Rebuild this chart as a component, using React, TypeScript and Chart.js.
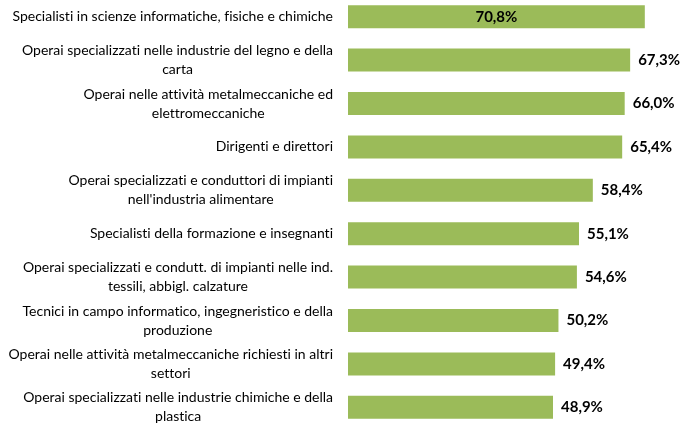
import React, { useEffect, useRef } from 'react';
import { Chart, registerables } from 'chart.js';
Chart.register(...registerables);

const categories: string[][] = [
  ['Specialisti in scienze informatiche, fisiche e chimiche'],
  ['Operai specializzati nelle industrie del legno e della', 'carta'],
  ['Operai nelle attività metalmeccaniche ed', 'elettromeccaniche'],
  ['Dirigenti e direttori'],
  ['Operai specializzati e conduttori di impianti', "nell'industria alimentare"],
  ['Specialisti della formazione e insegnanti'],
  ['Operai specializzati e condutt. di impianti nelle ind.', 'tessili, abbigl. calzature'],
  ['Tecnici in campo informatico, ingegneristico e della', 'produzione'],
  ['Operai nelle attività metalmeccaniche richiesti in altri', 'settori'],
  ['Operai specializzati nelle industrie chimiche e della', 'plastica'],
];
const values: number[] = [70.8, 67.3, 66.0, 65.4, 58.4, 55.1, 54.6, 50.2, 49.4, 48.9];

const W = 681;
const H = 434;
const LABEL_FONT = '14px Lato, "Open Sans", sans-serif';
const VALUE_FONT = 'bold 15px Lato, "Open Sans", sans-serif';

const fmt = (v: number) => v.toFixed(1).replace('.', ',') + '%';

const labelPlugin = {
  id: 'customLabels',
  afterDatasetsDraw(chart: any) {
    const ctx = chart.ctx as any;
    const y = chart.scales.y;
    const meta = chart.getDatasetMeta(0);
    ctx.save();
    try { ctx.textRendering = 'optimizeSpeed'; } catch (e) {}
    ctx.fillStyle = '#000';
    ctx.textBaseline = 'middle';
    ctx.font = LABEL_FONT;
    ctx.textAlign = 'center';
    const lh = 19;
    const right = chart.chartArea.left - 15;
    categories.forEach((lines, i) => {
      const cy = y.getPixelForValue(i);
      const bw = Math.max(...lines.map((l) => ctx.measureText(l).width));
      const cx = right - bw / 2;
      const startY = cy - ((lines.length - 1) * lh) / 2;
      lines.forEach((l, k) => ctx.fillText(l, cx, startY + k * lh));
    });
    ctx.font = VALUE_FONT;
    meta.data.forEach((bar: any, i: number) => {
      const txt = fmt(values[i]);
      const tw = ctx.measureText(txt).width;
      const endX = bar.x;
      if (endX + 8 + tw > chart.width) {
        ctx.textAlign = 'center';
        ctx.fillText(txt, (bar.base + endX) / 2, bar.y);
      } else {
        ctx.textAlign = 'left';
        ctx.fillText(txt, endX + 8, bar.y);
      }
    });
    ctx.restore();
  },
};

export default function App() {
  const ref = useRef<HTMLCanvasElement>(null);
  useEffect(() => {
    document.documentElement.style.overflow = 'hidden';
    document.body.style.overflow = 'hidden';
    const chart = new Chart(ref.current!, {
      type: 'bar',
      data: {
        labels: categories,
        datasets: [
          {
            data: values,
            backgroundColor: '#9BBB59',
            borderWidth: 0,
            barPercentage: 0.53,
            categoryPercentage: 1,
          },
        ],
      },
      options: {
        indexAxis: 'y',
        responsive: false,
        animation: false,
        devicePixelRatio: 1,
        layout: { padding: { left: 348, right: 6, top: 0, bottom: 0 } },
        plugins: { legend: { display: false }, tooltip: { enabled: false } },
        scales: {
          x: { display: false, min: 0, max: 78 },
          y: { display: false },
        },
      },
      plugins: [labelPlugin],
    });
    return () => chart.destroy();
  }, []);
  return (
    <div style={{ position: 'absolute', left: 0, top: -5, width: W, height: H }}>
      <canvas ref={ref} width={W} height={H} style={{ display: 'block' }} />
    </div>
  );
}
